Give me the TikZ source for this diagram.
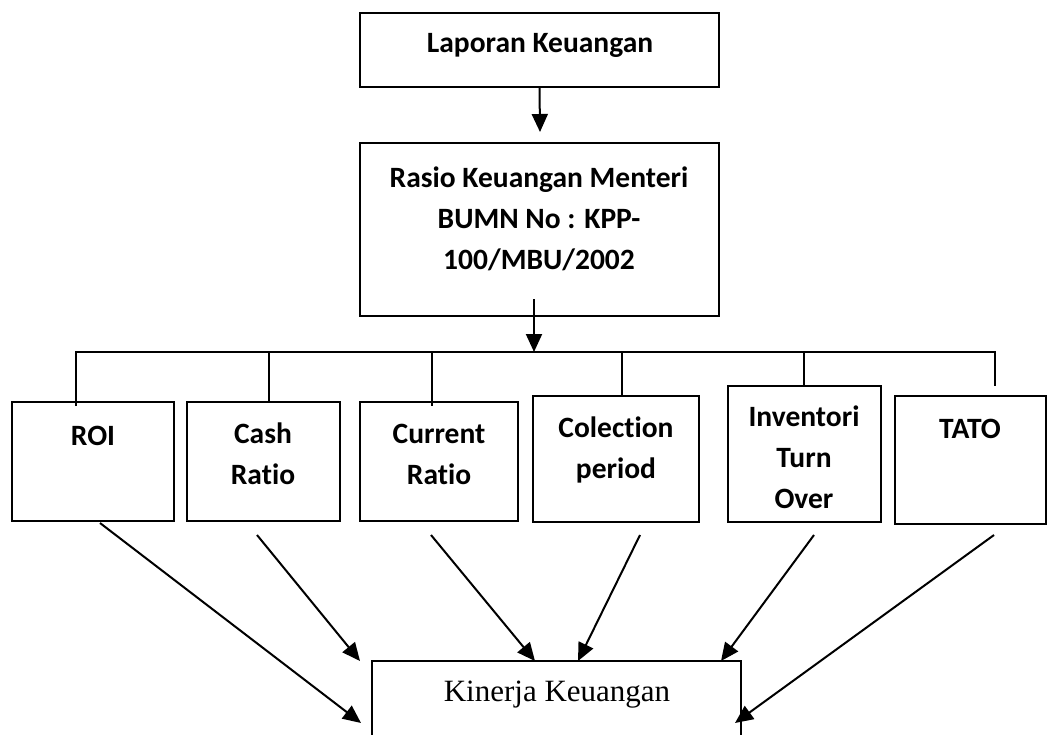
\documentclass[tikz,border=0pt]{standalone}
\usepackage{fontspec}
\setmainfont{Carlito}[Ligatures=NoCommon, RawFeature=-liga]
\newfontfamily\serifkin{Liberation Serif}
\usetikzlibrary{arrows.meta}
\tikzset{
  box/.style={draw, line width=2pt, anchor=north west, inner sep=0pt, outer sep=0pt},
  lbl/.style={align=center, inner sep=0pt, font=\fontsize{29.5}{41}\selectfont\bfseries},
  conn/.style={line width=2pt},
  arr/.style={line width=2pt, -{Triangle[length=18pt,width=16pt]}}
}
\begin{document}
\begin{tikzpicture}[x=1pt,y=-1pt]
\clip (0,0) rectangle (1048,735);
\useasboundingbox (0,0) rectangle (1048,735);
% boxes
\node[box, minimum width=359pt, minimum height=74pt] (top) at (360,13) {};
\node[box, minimum width=359pt, minimum height=173pt] (rasio) at (360,143) {};
\node[box, minimum width=162pt, minimum height=119pt] (roi) at (12,402) {};
\node[box, minimum width=153pt, minimum height=119pt] (cash) at (187,402) {};
\node[box, minimum width=158pt, minimum height=119pt] (cur) at (360,402) {};
\node[box, minimum width=166pt, minimum height=126pt] (col) at (533,396) {};
\node[box, minimum width=153pt, minimum height=136pt] (inv) at (728,386) {};
\node[box, minimum width=151pt, minimum height=128pt] (tato) at (895,396) {};
\node[box, minimum width=369pt, minimum height=110pt] (kin) at (372,661) {};
% labels
\node[lbl] (ttop) at (540,45) {Laporan Keuangan};
\node[lbl] (trasio) at (539,219) {Rasio Keuangan Menteri\\BUMN No : KPP-\\100/MBU/2002};
\node[lbl] (troi) at (93,436) {ROI};
\node[lbl] (tcash) at (263,454) {Cash\\Ratio};
\node[lbl] (tcur) at (439,454) {Current\\Ratio};
\node[lbl] (tcol) at (616,450) {Colection\\period};
\node[lbl] (tinv) at (804,457) {Inventori\\Turn\\Over};
\node[lbl] (ttato) at (970,429) {TATO};
\node[font=\serifkin\fontsize{31}{36}\selectfont, inner sep=0pt] (tkin) at (557,695) {Kinerja Keuangan};
% coordinates
\coordinate (a1e) at (540,132);
\coordinate (a2s) at (534,299);
\coordinate (bus) at (534,352);
\coordinate (bl) at (76,352);
\coordinate (br) at (995,352);
\coordinate (s1) at (100,523);
\coordinate (s2) at (257,535);
\coordinate (s3) at (431,535);
\coordinate (s4) at (640,535);
\coordinate (s5) at (814,535);
\coordinate (s6) at (994,535);
\coordinate (e1) at (361,723);
\coordinate (e2) at (360,661);
\coordinate (e3) at (535,661);
\coordinate (e4) at (578,661);
\coordinate (e5) at (721,661);
\coordinate (e6) at (735,723);
% connectors
\draw[arr] (top.south) -- (a1e);
\draw[arr] (a2s) -- (bus);
\draw[conn] (76,406) -- (bl) -- (br) -- (995,386);
\draw[conn] (269,352) -- (269,401);
\draw[conn] (432,352) -- (432,406);
\draw[conn] (622,352) -- (622,396);
\draw[conn] (804,352) -- (804,386);
\draw[arr] (s1) -- (e1);
\draw[arr] (s2) -- (e2);
\draw[arr] (s3) -- (e3);
\draw[arr] (s4) -- (e4);
\draw[arr] (s5) -- (e5);
\draw[arr] (s6) -- (e6);
\end{tikzpicture}
\end{document}
